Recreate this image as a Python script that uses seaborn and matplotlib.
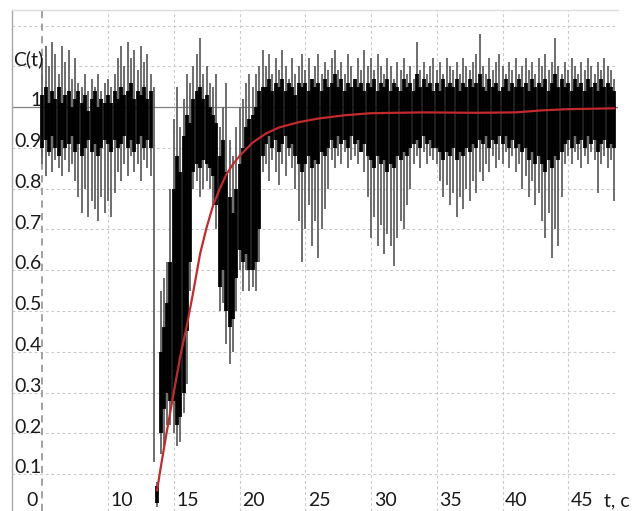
import numpy as np
import matplotlib
matplotlib.use("Agg")
import matplotlib.pyplot as plt
import seaborn as sns

# ---------------- data ----------------
# noisy signal sampled every 0.25 s from t = 5.0 to 48.5
sample_t0, sample_step = 5.0, 0.25
# extreme (gray) spikes
spike_hi = [
    1.12, 1.15, 1.10, 1.16, 1.13, 1.08, 1.15, 1.11, 1.14, 1.07, 1.12, 1.06, 1.05, 1.08, 1.04, 1.07, 1.05, 1.08, 1.04, 1.06,
    1.07, 1.05, 1.08, 1.12, 1.15, 1.10, 1.16, 1.12, 1.14, 1.09, 1.15, 1.11, 1.13, 1.08, 1.05, 0.08, 0.55, 0.58, 0.62, 0.80,
    0.97, 1.05, 0.95, 1.02, 1.08, 1.06, 1.10, 1.13, 1.17, 1.08, 1.10, 1.06, 1.05, 1.08, 0.95, 1.00, 1.06, 0.92, 0.88, 0.95,
    1.00, 1.02, 1.06, 1.08, 1.05, 1.08, 1.10, 1.14, 1.10, 1.13, 1.08, 1.12, 1.09, 1.14, 1.10, 1.07, 1.12, 1.08, 1.10, 1.13,
    1.09, 1.12, 1.07, 1.10, 1.13, 1.08, 1.11, 1.09, 1.12, 1.14, 1.09, 1.11, 1.08, 1.13, 1.10, 1.07, 1.12, 1.09, 1.14, 1.10,
    1.12, 1.09, 1.13, 1.10, 1.08, 1.12, 1.10, 1.07, 1.11, 1.09, 1.12, 1.08, 1.10, 1.07, 1.16, 1.09, 1.11, 1.08, 1.10, 1.12,
    1.09, 1.11, 1.08, 1.12, 1.10, 1.09, 1.11, 1.08, 1.12, 1.10, 1.09, 1.11, 1.13, 1.18, 1.10, 1.08, 1.12, 1.09, 1.11, 1.13,
    1.10, 1.08, 1.11, 1.09, 1.12, 1.08, 1.10, 1.12, 1.09, 1.11, 1.08, 1.12, 1.10, 1.13, 1.09, 1.11, 1.17, 1.10, 1.08, 1.11,
    1.09, 1.12, 1.10, 1.08, 1.11, 1.09, 1.12, 1.10, 1.08, 1.11, 1.09, 1.12, 1.10, 1.09, 1.07,
]
spike_lo = [
    0.86, 0.83, 0.88, 0.84, 0.87, 0.85, 0.83, 0.87, 0.84, 0.86, 0.82, 0.78, 0.74, 0.80, 0.73, 0.77, 0.75, 0.72, 0.78, 0.74,
    0.77, 0.73, 0.79, 0.84, 0.82, 0.86, 0.83, 0.88, 0.84, 0.86, 0.82, 0.87, 0.85, 0.83, 0.13, 0.02, 0.15, 0.17, 0.22, 0.22,
    0.20, 0.17, 0.18, 0.25, 0.32, 0.55, 0.80, 0.82, 0.78, 0.80, 0.82, 0.80, 0.76, 0.70, 0.50, 0.52, 0.42, 0.37, 0.40, 0.50,
    0.60, 0.55, 0.60, 0.55, 0.56, 0.55, 0.62, 0.84, 0.86, 0.82, 0.87, 0.84, 0.81, 0.86, 0.83, 0.88, 0.85, 0.80, 0.72, 0.62,
    0.70, 0.76, 0.66, 0.72, 0.63, 0.70, 0.75, 0.80, 0.87, 0.85, 0.88, 0.86, 0.89, 0.85, 0.87, 0.88, 0.86, 0.89, 0.84, 0.78,
    0.68, 0.73, 0.66, 0.71, 0.64, 0.69, 0.66, 0.61, 0.68, 0.72, 0.70, 0.76, 0.80, 0.86, 0.88, 0.85, 0.89, 0.86, 0.88, 0.87,
    0.86, 0.82, 0.78, 0.81, 0.76, 0.79, 0.73, 0.78, 0.75, 0.80, 0.77, 0.82, 0.79, 0.84, 0.82, 0.86, 0.84, 0.88, 0.85, 0.87,
    0.86, 0.89, 0.85, 0.88, 0.84, 0.86, 0.80, 0.83, 0.78, 0.82, 0.76, 0.79, 0.72, 0.68, 0.74, 0.63, 0.70, 0.66, 0.78, 0.86,
    0.88, 0.86, 0.89, 0.87, 0.85, 0.88, 0.86, 0.89, 0.87, 0.79, 0.86, 0.88, 0.85, 0.87, 0.77,
]
# dense (black) core of the signal
core_hi = [
    1.03, 1.05, 1.01, 1.04, 1.02, 1.05, 1.01, 1.03, 1.04, 1.00, 1.02, 1.04, 1.01, 1.03, 0.99, 1.02, 1.04, 1.00, 1.02, 1.01,
    1.03, 1.01, 1.04, 1.02, 1.05, 1.03, 1.04, 1.06, 1.02, 1.04, 1.03, 1.05, 1.02, 1.04, np.nan, 0.07, 0.40, 0.46, 0.52, 0.62,
    0.80, 0.88, 0.84, 0.93, 0.98, 0.96, 1.02, 1.04, 1.05, 1.02, 1.03, 1.00, 0.98, 0.96, 0.88, 0.92, 0.84, 0.78, 0.74, 0.80,
    0.86, 0.90, 0.95, 0.97, 0.98, 1.00, 1.04, 1.05, 1.05, 1.07, 1.04, 1.06, 1.05, 1.07, 1.04, 1.06, 1.05, 1.03, 1.06, 1.05,
    1.06, 1.04, 1.07, 1.05, 1.06, 1.04, 1.07, 1.05, 1.06, 1.08, 1.05, 1.07, 1.04, 1.06, 1.05, 1.07, 1.05, 1.06, 1.04, 1.06,
    1.05, 1.07, 1.04, 1.06, 1.05, 1.07, 1.04, 1.06, 1.05, 1.04, 1.07, 1.05, 1.06, 1.04, 1.08, 1.05, 1.07, 1.05, 1.06, 1.04,
    1.06, 1.04, 1.07, 1.05, 1.06, 1.05, 1.07, 1.04, 1.06, 1.05, 1.07, 1.05, 1.06, 1.08, 1.05, 1.04, 1.07, 1.05, 1.06, 1.04,
    1.05, 1.07, 1.04, 1.06, 1.05, 1.07, 1.05, 1.06, 1.04, 1.07, 1.05, 1.06, 1.05, 1.07, 1.04, 1.06, 1.08, 1.05, 1.07, 1.05,
    1.06, 1.04, 1.07, 1.05, 1.06, 1.04, 1.07, 1.05, 1.06, 1.04, 1.07, 1.05, 1.06, 1.05, 1.04,
]
core_lo = [
    0.90, 0.92, 0.89, 0.93, 0.90, 0.88, 0.92, 0.90, 0.91, 0.93, 0.89, 0.91, 0.88, 0.90, 0.92, 0.89, 0.91, 0.88, 0.90, 0.92,
    0.91, 0.89, 0.92, 0.90, 0.91, 0.93, 0.90, 0.92, 0.89, 0.91, 0.93, 0.90, 0.92, 0.90, np.nan, 0.03, 0.20, 0.26, 0.30, 0.28,
    0.28, 0.22, 0.24, 0.30, 0.45, 0.62, 0.84, 0.86, 0.85, 0.87, 0.86, 0.85, 0.83, 0.76, 0.56, 0.60, 0.50, 0.46, 0.48, 0.58,
    0.65, 0.62, 0.64, 0.60, 0.60, 0.62, 0.70, 0.88, 0.91, 0.93, 0.90, 0.92, 0.89, 0.91, 0.93, 0.90, 0.91, 0.88, 0.86, 0.84,
    0.86, 0.88, 0.85, 0.87, 0.86, 0.89, 0.88, 0.90, 0.92, 0.90, 0.93, 0.91, 0.92, 0.90, 0.93, 0.91, 0.92, 0.89, 0.91, 0.88,
    0.87, 0.85, 0.88, 0.86, 0.87, 0.84, 0.86, 0.85, 0.88, 0.87, 0.89, 0.88, 0.90, 0.91, 0.92, 0.90, 0.93, 0.91, 0.92, 0.90,
    0.90, 0.89, 0.87, 0.89, 0.88, 0.90, 0.87, 0.89, 0.88, 0.90, 0.89, 0.91, 0.90, 0.92, 0.91, 0.93, 0.90, 0.92, 0.91, 0.93,
    0.91, 0.93, 0.90, 0.92, 0.90, 0.91, 0.89, 0.90, 0.87, 0.89, 0.86, 0.88, 0.86, 0.84, 0.87, 0.85, 0.88, 0.87, 0.89, 0.91,
    0.92, 0.90, 0.93, 0.91, 0.92, 0.90, 0.93, 0.91, 0.92, 0.89, 0.91, 0.92, 0.90, 0.91, 0.90,
]

# smooth (red) fitted curve
fit_t = [13.73, 14.0, 14.5, 15.0, 15.5, 16.0, 16.5, 17.0, 17.5, 18.0, 18.5, 19.0, 19.5, 20.0,
         21.0, 22.0, 23.0, 24.5, 26.0, 28.0, 30.0, 34.0, 38.0, 41.0, 43.0, 45.0, 48.5]
fit_c = [0.06, 0.115, 0.21, 0.30, 0.39, 0.465, 0.55, 0.64, 0.705, 0.76, 0.80, 0.835, 0.86, 0.88,
         0.913, 0.935, 0.95, 0.963, 0.972, 0.98, 0.985, 0.987, 0.986, 0.987, 0.992, 0.995, 0.997]

y_ticks = [0.1, 0.2, 0.3, 0.4, 0.5, 0.6, 0.7, 0.8, 0.9, 1.0]
y_tick_labels = ["0.1", "0.2", "0.3", "0.4", "0.5", "0.6", "0.7", "0.8", "0.9", "1"]
x_ticks = [10, 15, 20, 25, 30, 35, 40, 45]
x_tick_labels = ["10", "15", "20", "25", "30", "35", "40", "45"]
grid_y = [0.1, 0.2, 0.3, 0.4, 0.5, 0.6, 0.7, 0.8, 0.9, 1.1, 1.2]
grid_x = [10, 15, 20, 25, 30, 35, 40, 45]

# ---------------- drawing ----------------
sns.set_style("white")
plt.rcParams["font.family"] = ["Lato", "DejaVu Sans"]

W, H = 633, 511
fig = plt.figure(figsize=(W / 100, H / 100), dpi=100)
ax = fig.add_axes([12 / W, 0, 606 / W, 501 / H])
ax.set_xlim(2.70, 48.78)
ax.set_ylim(0.0098, 1.238)

# grid
for gy in grid_y:
    ax.axhline(gy, color="#c9c9c9", lw=0.8, ls=(0, (2.5, 2.5)), zorder=0)
for gx in grid_x:
    ax.axvline(gx, color="#c9c9c9", lw=0.8, ls=(0, (2.5, 2.5)), zorder=0)
ax.axvline(5, color="#9a9a9a", lw=1.3, ls=(0, (4, 3)), zorder=0)
ax.axhline(1.0, color="#7f7f7f", lw=0.9, zorder=0)

sample_t = sample_t0 + sample_step * np.arange(len(spike_hi))

ax.vlines(sample_t, spike_lo, spike_hi, color="#626262", lw=1.3, zorder=2)
ax.vlines(sample_t, core_lo, core_hi, color="black", lw=2.7, zorder=3)

sns.lineplot(x=fit_t, y=fit_c, ax=ax, color="#c42a2d", lw=1.6, zorder=5)

# spines
for s in ["right", "bottom"]:
    ax.spines[s].set_visible(False)
ax.spines["left"].set_color("#a8a8a8")
ax.spines["left"].set_linewidth(1.0)
ax.spines["top"].set_color("#dcdcdc")
ax.spines["top"].set_linewidth(1.0)
ax.set_xticks([])
ax.set_yticks([])

# tick labels
fs = 14
for v, lab in zip(y_ticks, y_tick_labels):
    ax.text(4.93, v + 0.002, lab, ha="right", va="baseline", fontsize=fs, color="#1a1a1a")
ax.text(4.68, 0.021, "0", ha="right", va="baseline", fontsize=fs, color="#1a1a1a")
for v, lab in zip(x_ticks, x_tick_labels):
    ax.text(v + 0.2, 0.021, lab, ha="left", va="baseline", fontsize=fs, color="#1a1a1a")
ax.text(47.75, 0.021, "t, c", ha="left", va="baseline", fontsize=fs, color="#1a1a1a", clip_on=False)
ax.text(2.75, 1.103, "C(t)", ha="left", va="baseline", fontsize=fs, color="#1a1a1a")

fig.savefig("out.png", dpi=100)
